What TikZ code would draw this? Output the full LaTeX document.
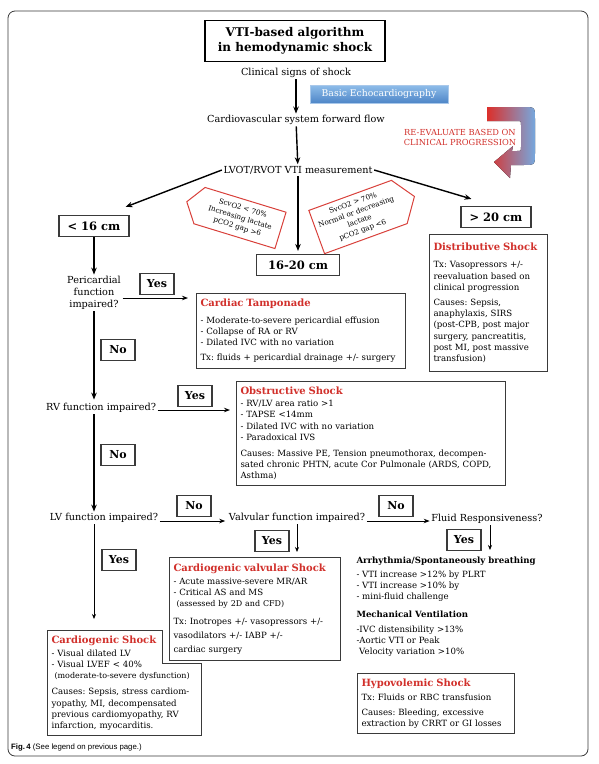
\documentclass[tikz,border=0pt]{standalone}
\usepackage{fontspec}
\setmainfont{DejaVu Serif}
\newfontfamily\capfont{Liberation Sans}
\usetikzlibrary{arrows.meta, positioning, shapes.symbols}
\frenchspacing

\definecolor{shockred}{HTML}{D1302B}
\definecolor{tagred}{HTML}{D8403A}
\definecolor{boxgray}{HTML}{3A3A3A}
\definecolor{echotop}{HTML}{8FBDEA}
\definecolor{echobot}{HTML}{4E86C7}
\definecolor{echoedge}{HTML}{A9C8EA}
\definecolor{revred}{HTML}{DC2F2A}
\definecolor{revblue}{HTML}{76A8DE}

\newcommand{\lblfont}{\fontsize{9.7}{12}\selectfont}
\newcommand{\boxfont}{\fontsize{8.6}{11.2}\selectfont}
\newcommand{\notefont}{\fontsize{8}{10}\selectfont}
\newcommand{\cmfont}{\bfseries\fontsize{11.5}{13}\selectfont}
\newcommand{\ansfont}{\bfseries\fontsize{11}{13}\selectfont}
\newcommand{\tagfont}{\fontsize{7.2}{9.6}\selectfont}
\newcommand{\revfont}{\fontsize{8.3}{10}\selectfont}
\newcommand{\titlefont}{\bfseries\fontsize{12}{15}\selectfont}
\newcommand{\shocktitle}[1]{{\color{shockred}\bfseries\fontsize{10}{12}\selectfont #1}}

\begin{document}
\begin{tikzpicture}[x=1pt, y=-1pt,
	lbl/.style={font=\lblfont, inner sep=1.5pt},
	echobox/.style={draw=echoedge, top color=echotop, bottom color=echobot, text=white, font=\fontsize{9.3}{11}\selectfont, minimum width=138pt, minimum height=18pt, inner sep=1pt},
	cmbox/.style={draw=boxgray, line width=1.1pt, font=\cmfont, minimum height=21pt},
	ansbox/.style={draw=boxgray, line width=1.1pt, font=\ansfont, minimum width=34pt, minimum height=21pt, inner sep=1pt},
	shockbox/.style={draw=boxgray, line width=1pt, font=\boxfont, align=left, anchor=north west, inner xsep=4pt, inner ysep=5pt},
	tag/.style={draw=tagred, line width=1pt, signal, signal pointer angle=110, font=\tagfont, align=center, inner sep=1.5pt},
	flowarrow/.style={-{Stealth[length=7pt, width=5.5pt]}, line width=1.4pt},
	sidearrow/.style={-{Stealth[length=6pt, width=4.5pt]}, line width=0.9pt},
	hairarrow/.style={-{Stealth[length=5pt, width=4pt]}, line width=0.7pt}]
	\useasboundingbox (0,0) rectangle (598,764);
	\draw[boxgray, line width=0.8pt, rounded corners=7pt] (8,11) rectangle (588,756);

	% header and main axis
	\node[draw=black, line width=1.2pt, font=\titlefont, align=center, minimum width=180pt, minimum height=41pt] (title) at (295,41) {VTI-based algorithm\\in hemodynamic shock};
	\node[lbl] (clin) at (296,73) {Clinical signs of shock};
	\node[echobox] (echo) at (379,94) {Basic Echocardiography};
	\node[lbl] (cvs) at (296,120) {Cardiovascular system forward flow};
	\node[lbl] (lvot) at (298,170) {LVOT/RVOT VTI measurement};
	\node[font=\revfont, text=shockred, align=center] (reeval) at (460,137) {RE-EVALUATE BASED ON\\CLINICAL PROGRESSION};
	\fill[left color=revred, right color=revblue]
	(487,107) -- (523,107) .. controls (535,107) .. (535,119) -- (535,153)
	.. controls (535,165) .. (523,165) -- (511,165) -- (510,178) -- (494,162)
	-- (513,146) -- (512,151) -- (517,151) .. controls (521,151) .. (521,147)
	-- (521,125) .. controls (521,121) .. (517,121) -- (487,121) -- cycle;

	% VTI ranges
	\node[cmbox, minimum width=70pt] (lt16) at (94,226) {< 16 cm};
	\node[cmbox, minimum width=83pt] (mid) at (298,265) {16-20 cm};
	\node[cmbox, minimum width=70pt] (gt20) at (496,217) {> 20 cm};
	\node[tag, signal to=west, rotate=-17, minimum width=98pt, minimum height=38pt] (lowtag) at (240,218) {ScvO2 < 70\%\\Increasing lactate\\pCO2 gap >6};
	\node[tag, signal to=east, rotate=20, minimum width=104pt, minimum height=46pt] (hightag) at (358,217) {SvcO2 > 70\%\\Normal or decreasing\\lactate\\pCO2 gap <6};

	% questions
	\node[lbl, align=center] (peri) at (94,293) {Pericardial\\function\\impaired?};
	\node[lbl] (rv) at (101,408) {RV function impaired?};
	\node[lbl] (lv) at (104,518) {LV function impaired?};
	\node[lbl] (valv) at (297,518) {Valvular function impaired?};
	\node[lbl] (fluid) at (487,519) {Fluid Responsiveness?};

	% answers
	\node[ansbox] (yes1) at (157,284) {Yes};
	\node[ansbox] (no1) at (118,350) {No};
	\node[ansbox] (yes2) at (195,396) {Yes};
	\node[ansbox] (no2) at (118,455) {No};
	\node[ansbox] (no3) at (194,506) {No};
	\node[ansbox] (no4) at (396,506) {No};
	\node[ansbox] (yes3) at (272,541) {Yes};
	\node[ansbox] (yes4) at (464,540) {Yes};
	\node[ansbox] (yes5) at (119,560) {Yes};

	% shock boxes
	\node[shockbox, text width=201pt, minimum height=75pt] (tamp) at (196,293) {\shocktitle{Cardiac Tamponade}\\[5pt]
		- Moderate-to-severe pericardial effusion\\
		- Collapse of RA or RV\\
		- Dilated IVC with no variation\\[4pt]
		Tx: fluids + pericardial drainage +/- surgery};
	\node[shockbox, text width=110pt, minimum height=137pt] (dist) at (429,234) {\shocktitle{Distributive Shock}\\[6pt]
		Tx: Vasopressors +/-\\
		reevaluation based on\\
		clinical progression\\[4pt]
		Causes: Sepsis,\\
		anaphylaxis, SIRS\\
		(post-CPB, post major\\
		surgery, pancreatitis,\\
		post MI, post massive\\
		transfusion)};
	\node[shockbox, text width=261pt, minimum height=104pt] (obst) at (236,381) {\shocktitle{Obstructive Shock}\\[1pt]
		- RV/LV area ratio >1\\
		- TAPSE <14mm\\
		- Dilated IVC with no variation\\
		- Paradoxical IVS\\[5pt]
		Causes: Massive PE, Tension pneumothorax, decompen-\\
		sated chronic PHTN, acute Cor Pulmonale (ARDS, COPD,\\
		Asthma)};
	\node[shockbox, text width=163pt, minimum height=103pt] (valvbox) at (169,557) {\shocktitle{Cardiogenic valvular Shock}\\[2pt]
		- Acute massive-severe MR/AR\\
		- Critical AS and MS\\
		\hspace*{3pt}{\notefont(assessed by 2D and CFD)}\\[6pt]
		Tx: Inotropes +/- vasopressors +/-\\[3pt]
		vasodilators +/- IABP +/-\\[3pt]
		cardiac surgery};
	\node[shockbox, draw=none, text width=145pt, minimum height=103pt] (cardio) at (47,630) {\shocktitle{Cardiogenic Shock}\\[2pt]
		- Visual dilated LV\\
		- Visual LVEF < 40\%\\
		\hspace*{3pt}{\notefont(moderate-to-severe dysfunction)}\\[5pt]
		Causes: Sepsis, stress cardiom-\\
		yopathy, MI, decompensated\\
		previous cardiomyopathy, RV\\
		infarction, myocarditis.};
	\coordinate (notch) at ([xshift=-7pt, yshift=-2pt]valvbox.south west);
	\draw[boxgray, line width=1pt] (cardio.north west) -- (cardio.north west -| notch) -- (notch)
	-- (notch -| cardio.east) -- (cardio.south east) -- (cardio.south west) -- cycle;
	\node[shockbox, draw=none, inner sep=2pt] (resp) at (354,554) {{\bfseries Arrhythmia/Spontaneously breathing}\\[3pt]
		- VTI increase >12\% by PLRT\\
		- VTI increase >10\% by\\
		- mini-fluid challenge\\[7pt]
		{\bfseries Mechanical Ventilation}\\[3pt]
		-IVC distensibility >13\%\\
		-Aortic VTI or Peak\\
		\ Velocity variation >10\%};
	\node[shockbox, text width=149pt, minimum height=60pt] (hypo) at (357,673) {\shocktitle{Hypovolemic Shock}\\[3pt]
		Tx: Fluids or RBC transfusion\\[4pt]
		Causes: Bleeding, excessive\\
		extraction by CRRT or GI losses};

	\node[anchor=west, font=\capfont\fontsize{7.8}{9}\selectfont, inner sep=0pt] (cap) at (11,747) {\textbf{Fig.\,4} (See legend on previous page.)};

	% connectors
	\draw[flowarrow] (clin) -- (cvs);
	\draw[flowarrow] (cvs) -- (lvot);
	\draw[flowarrow] (lvot.west) -- ([xshift=-4pt, yshift=8pt]lt16.north east);
	\draw[flowarrow] (lvot.east) -- ([xshift=11pt, yshift=7pt]gt20.north west);
	\draw[flowarrow, shorten >=3pt] (lvot) -- (mid);
	\draw[flowarrow] (lt16) -- (peri);
	\draw[flowarrow, shorten >=2pt] (peri.south) -- (peri.south |- rv.north);
	\draw[flowarrow] (rv.south -| peri.south) -- (peri.south |- lv.north);
	\draw[hairarrow, shorten >=11pt] (lv.south -| peri.south) -- (peri.south |- cardio.north);
	\draw[sidearrow, shorten >=8pt] ([yshift=-5pt]peri.east) -- ([yshift=-5pt]peri.east -| tamp.west);
	\draw[sidearrow, shorten >=6pt] ([yshift=-2pt]rv.east) -- ([yshift=-2pt]rv.east -| obst.west);
	\draw[sidearrow, shorten >=2pt] ([yshift=-3pt]lv.east) -- ([yshift=-3pt]lv.east -| valv.west);
	\draw[sidearrow] ([yshift=-3pt]valv.east) -- ([yshift=-3pt]valv.east -| fluid.west);
	\draw[hairarrow, shorten >=5pt] (valv.south) -- (valv.south |- valvbox.north);
	\draw[hairarrow, shorten >=4pt] ([xshift=3pt]fluid.south) -- ([xshift=3pt]fluid.south |- resp.north);
\end{tikzpicture}
\end{document}
